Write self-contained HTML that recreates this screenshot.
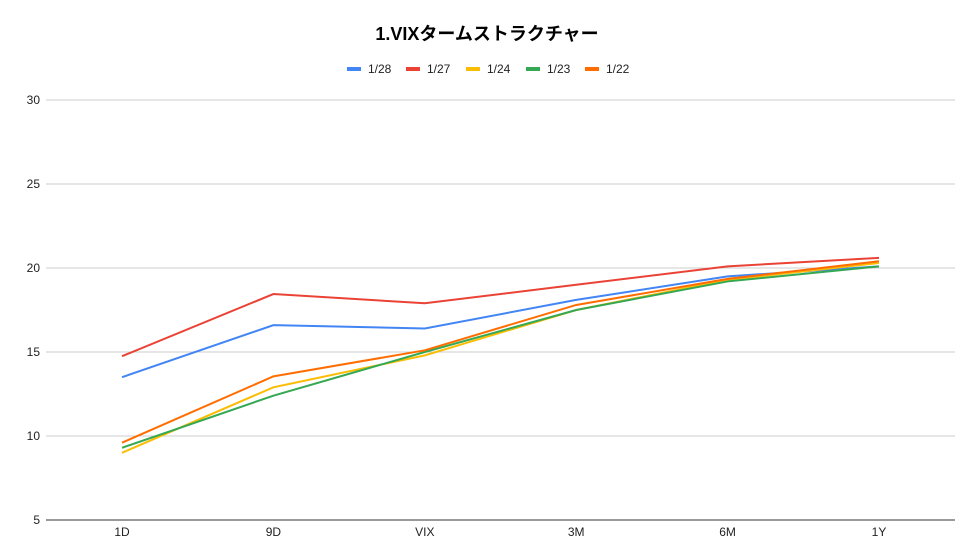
<!DOCTYPE html>
<html><head><meta charset="utf-8"><style>
body{margin:0;background:#fff;}
svg{display:block;font-family:"Liberation Sans","Noto Sans CJK JP",sans-serif;}
</style></head><body>
<svg id="chart" width="975" height="559">
<rect width="975" height="559" fill="#fff"/>
<text x="487" y="40" text-anchor="middle" font-size="18" font-weight="bold" fill="#000">1.VIXタームストラクチャー</text>
<g id="legend"></g><g id="grid"></g><g id="series"></g>
</svg>
<script>
const categories=["1D","9D","VIX","3M","6M","1Y"];
const yTicks=[5,10,15,20,25,30];
const seriesNames=["1/28","1/27","1/24","1/23","1/22"];
const seriesColors=["#4285f4","#ea4335","#fbbc04","#34a853","#ff6d01"];
const s128=[13.5,16.6,16.4,18.1,19.5,20.1];
const s127=[14.75,18.45,17.9,19.0,20.1,20.6];
const s124=[9.0,12.9,14.8,17.5,19.3,20.3];
const s123=[9.3,12.4,15.0,17.5,19.2,20.1];
const s122=[9.6,13.55,15.1,17.8,19.35,20.4];
const seriesData=[s128,s127,s124,s123,s122];
const NS="http://www.w3.org/2000/svg";
const x0=122,x1=879,yMin=5,yMax=30,py0=520,py1=100;
const xs=i=>x0+(x1-x0)*i/(categories.length-1);
const ys=v=>py0-(v-yMin)/(yMax-yMin)*(py0-py1);
function mk(t,a,p){const e=document.createElementNS(NS,t);for(const k in a)e.setAttribute(k,a[k]);p.appendChild(e);return e;}
const grid=document.getElementById('grid');
yTicks.forEach(v=>{
 const l=mk('line',{x1:46,x2:955,y1:ys(v),y2:ys(v),stroke:v===5?'#333':'#ccc','stroke-width':1},grid);
 
 
 const t=mk('text',{x:40,y:ys(v)+4,'text-anchor':'end','font-size':12,fill:'#222'},grid);
 t.textContent=v;
 
 
});
categories.forEach((c,i)=>{
 const t=mk('text',{x:xs(i),y:536,'text-anchor':'middle','font-size':12,fill:'#222'},grid);
 t.textContent=c;
 
 
});
const sg=document.getElementById('series');
seriesData.forEach((d,si)=>{
 const p=mk('polyline',{points:d.map((v,i)=>xs(i)+','+ys(v)).join(' '),fill:'none',stroke:seriesColors[si],'stroke-width':2},sg);
 
 
});
const lg=document.getElementById('legend');
const lx=[347,406,466,526,585];
seriesNames.forEach((n,i)=>{
 const r=mk('rect',{x:lx[i],y:67,width:14,height:4,fill:seriesColors[i]},lg);
 
 
 const t=mk('text',{x:lx[i]+21,y:73,'font-size':12,fill:'#222'},lg);
 t.textContent=n;
 
 
});
</script>
</body></html>
